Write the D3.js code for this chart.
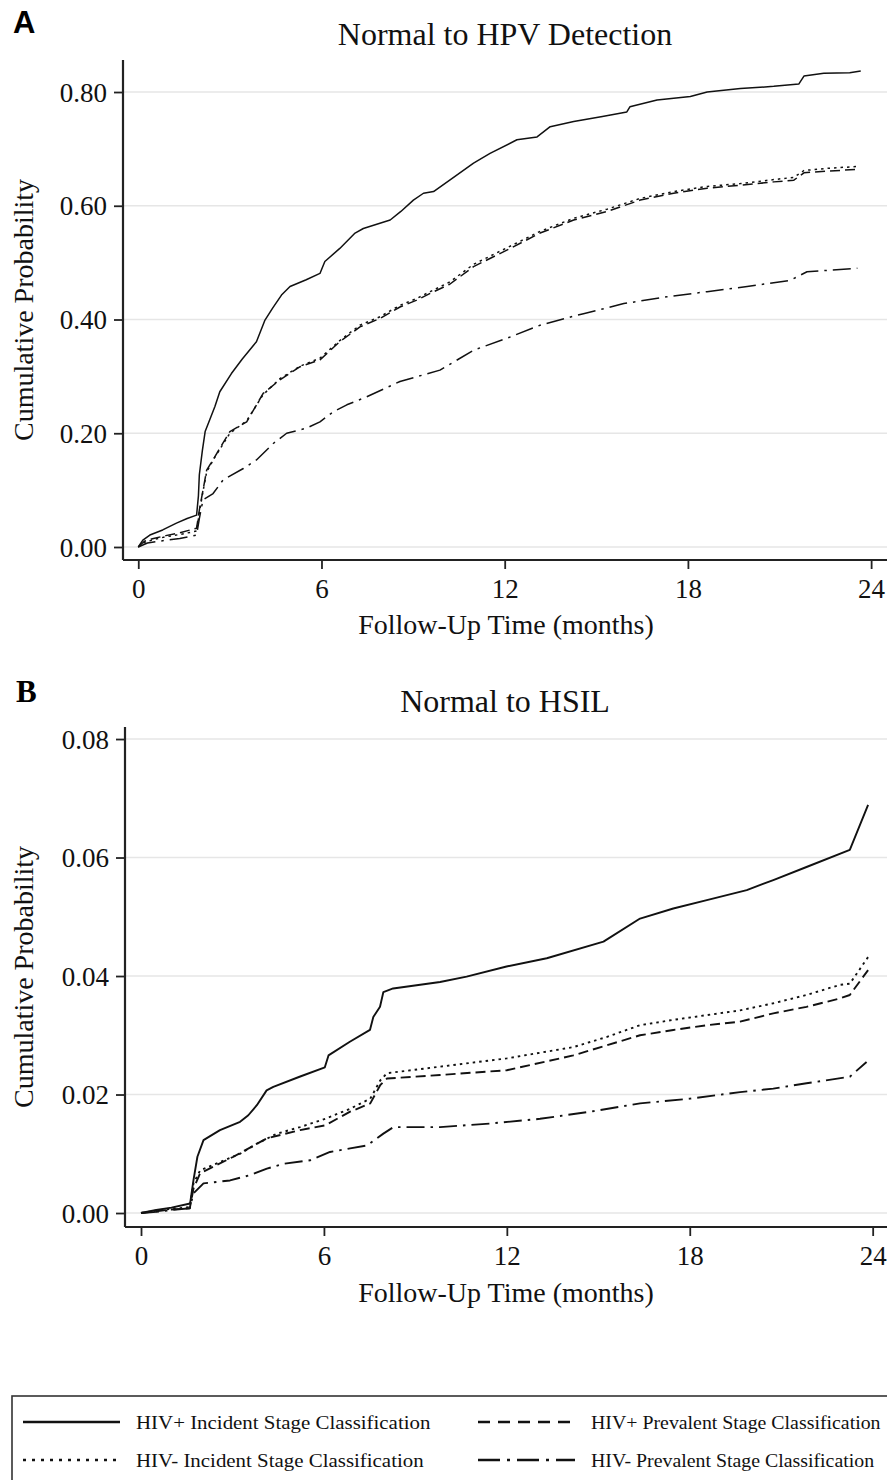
<!DOCTYPE html>
<html>
<head>
<meta charset="utf-8">
<script src="https://cdn.jsdelivr.net/npm/d3@7"></script>
<style>
  html, body { margin: 0; padding: 0; background: #fff; overflow: hidden; }
  svg { display: block; }
</style>
</head>
<body>
<svg id="chart" width="887" height="1480"></svg>
<script>
// ---- Data -------------------------------------------------------------
const monthTicks = [0, 6, 12, 18, 24];
const hpvTicks = [0, 0.2, 0.4, 0.6, 0.8];
const hsilTicks = [0, 0.02, 0.04, 0.06, 0.08];

const seriesNames = [
  "HIV+ Incident Stage Classification",
  "HIV+ Prevalent Stage Classification",
  "HIV- Incident Stage Classification",
  "HIV- Prevalent Stage Classification"
];

// Panel A: Normal to HPV Detection (months, cumulative probability)
const hpvPosIncT = [0, 0.15, 0.38, 0.8, 1.25, 1.6, 1.91, 1.97, 2.0, 2.1, 2.19, 2.35, 2.51, 2.67, 3.05, 3.4, 3.87, 4.15, 4.4, 4.69, 4.97, 5.5, 5.95, 6.11, 6.6, 7.1, 7.37, 8.25, 8.6, 9.01, 9.34, 9.67, 10.2, 10.98, 11.52, 12.4, 13.06, 13.49, 14.26, 15.2, 16.0, 16.1, 16.99, 18.08, 18.63, 19.72, 20.81, 21.63, 21.8, 22.45, 23.3, 23.66];
const hpvPosIncV = [0, 0.012, 0.021, 0.03, 0.042, 0.05, 0.056, 0.09, 0.127, 0.17, 0.203, 0.225, 0.247, 0.273, 0.305, 0.33, 0.361, 0.399, 0.42, 0.443, 0.458, 0.47, 0.481, 0.502, 0.525, 0.552, 0.56, 0.575, 0.59, 0.61, 0.622, 0.625, 0.645, 0.675, 0.692, 0.716, 0.721, 0.739, 0.748, 0.757, 0.765, 0.774, 0.786, 0.792, 0.8, 0.806, 0.81, 0.814, 0.828, 0.833, 0.834, 0.837];

const hpvPosPrevT = [0, 0.2, 0.5, 0.9, 1.36, 1.91, 2.0, 2.12, 2.24, 2.51, 3.0, 3.55, 4.09, 4.64, 5.3, 5.95, 6.6, 7.26, 7.92, 8.57, 9.12, 9.56, 10.2, 10.98, 12.07, 13.16, 14.26, 15.35, 16.44, 17.53, 18.63, 19.72, 20.81, 21.47, 21.8, 22.6, 23.55];
const hpvPosPrevV = [0, 0.01, 0.015, 0.02, 0.025, 0.033, 0.065, 0.1, 0.135, 0.159, 0.203, 0.22, 0.27, 0.294, 0.317, 0.329, 0.361, 0.387, 0.402, 0.422, 0.434, 0.446, 0.462, 0.493, 0.522, 0.552, 0.575, 0.59, 0.61, 0.622, 0.631, 0.636, 0.642, 0.645, 0.658, 0.661, 0.664];

const hpvNegIncT = [0, 0.2, 0.5, 0.9, 1.36, 1.91, 2.0, 2.12, 2.24, 2.51, 3.0, 3.55, 4.09, 4.64, 5.3, 5.95, 6.6, 7.26, 7.92, 8.57, 9.12, 9.56, 10.2, 10.98, 12.07, 13.16, 14.26, 15.35, 16.44, 17.53, 18.63, 19.72, 20.81, 21.47, 21.8, 22.6, 23.55];
const hpvNegIncV = [0, 0.008, 0.013, 0.018, 0.022, 0.028, 0.06, 0.098, 0.132, 0.158, 0.2, 0.222, 0.268, 0.296, 0.318, 0.332, 0.363, 0.39, 0.405, 0.425, 0.437, 0.449, 0.466, 0.497, 0.526, 0.555, 0.578, 0.594, 0.613, 0.625, 0.634, 0.639, 0.646, 0.65, 0.662, 0.666, 0.669];

const hpvNegPrevT = [0, 0.3, 0.8, 1.36, 1.91, 2.0, 2.12, 2.45, 2.78, 3.44, 3.87, 4.42, 4.86, 5.51, 5.95, 6.39, 6.83, 7.48, 8.57, 9.88, 10.98, 12.07, 13.16, 14.26, 14.58, 15.9, 17.32, 18.63, 19.94, 21.36, 21.9, 23.55];
const hpvNegPrevV = [0, 0.007, 0.011, 0.015, 0.021, 0.05, 0.083, 0.094, 0.118, 0.138, 0.153, 0.182, 0.2, 0.209, 0.22, 0.238, 0.25, 0.264, 0.291, 0.311, 0.346, 0.367, 0.39, 0.406, 0.41, 0.428, 0.44, 0.449, 0.458, 0.469, 0.484, 0.49];

// Panel B: Normal to HSIL
const hsilPosIncT = [0, 0.5, 1.0, 1.61, 1.72, 1.85, 2.05, 2.59, 3.25, 3.52, 3.8, 4.12, 4.34, 5.2, 6.03, 6.15, 6.85, 7.51, 7.62, 7.84, 7.95, 8.27, 9.81, 10.68, 11.99, 13.31, 15.17, 16.37, 17.46, 18.56, 19.87, 20.74, 21.83, 23.25, 23.85];
const hsilPosIncV = [0, 0.0005, 0.0009, 0.0016, 0.0055, 0.0095, 0.0123, 0.014, 0.0154, 0.0165, 0.0182, 0.0207, 0.0213, 0.023, 0.0246, 0.0266, 0.0289, 0.0309, 0.0331, 0.0348, 0.0373, 0.0379, 0.039, 0.0399, 0.0416, 0.043, 0.0458, 0.0497, 0.0514, 0.0528, 0.0545, 0.0562, 0.0584, 0.0613, 0.0689];

const hsilPosPrevT = [0, 0.5, 1.0, 1.6, 1.72, 1.94, 3.03, 4.13, 5.22, 6.04, 6.86, 7.52, 7.85, 8.07, 9.81, 12.0, 14.18, 15.27, 16.37, 17.46, 18.56, 19.65, 20.74, 21.83, 22.92, 23.25, 23.85];
const hsilPosPrevV = [0, 0.0003, 0.0006, 0.0008, 0.0041, 0.0067, 0.0095, 0.0126, 0.014, 0.0148, 0.0171, 0.0185, 0.0216, 0.0227, 0.0233, 0.0241, 0.0266, 0.0283, 0.03, 0.0309, 0.0317, 0.0323, 0.0337, 0.0348, 0.0362, 0.0368, 0.041];

const hsilNegIncT = [0, 0.5, 1.0, 1.6, 1.72, 1.94, 2.59, 3.25, 3.8, 4.46, 5.22, 6.04, 6.86, 7.52, 7.85, 8.07, 9.81, 12.0, 14.18, 15.27, 16.37, 17.46, 18.56, 19.65, 20.74, 21.83, 22.92, 23.25, 23.85];
const hsilNegIncV = [0, 0.0004, 0.0007, 0.001, 0.005, 0.0072, 0.0086, 0.01, 0.0117, 0.0134, 0.0145, 0.0159, 0.0176, 0.0193, 0.0224, 0.0236, 0.0247, 0.0261, 0.028, 0.0297, 0.0317, 0.0326, 0.0334, 0.0342, 0.0354, 0.0368, 0.0385, 0.0387, 0.0432];

const hsilNegPrevT = [0, 0.5, 1.0, 1.6, 1.72, 2.05, 2.92, 3.58, 4.13, 4.67, 5.55, 6.2, 6.86, 7.41, 7.95, 8.28, 9.81, 11.45, 13.09, 14.73, 16.37, 18.01, 19.65, 20.74, 21.83, 23.25, 23.8];
const hsilNegPrevV = [0, 0.0002, 0.0005, 0.0008, 0.0033, 0.005, 0.0055, 0.0064, 0.0075, 0.0083, 0.0089, 0.0103, 0.0109, 0.0114, 0.0134, 0.0145, 0.0145, 0.0151, 0.0159, 0.0171, 0.0185, 0.0193, 0.0204, 0.021, 0.0219, 0.023, 0.0255];

// ---- Styles -----------------------------------------------------------
const serif = "'Liberation Serif', 'Times New Roman', serif";
const inkColor = "#111";
const plotDash = ["none", "10,5", "2.5,4", "18,6,2.5,6"];
const legendDash = ["none", "12,8", "3,6", "22,7,3,7"];

const zipSeries = (ts, vs) => ts.map((t, i) => ({ t: t, v: vs[i] }));

const svg = d3.select("#chart");

function drawPanel(cfg) {
  const g = svg.append("g");
  const x = d3.scaleLinear().domain(cfg.xDomain).range([cfg.left, cfg.right]);
  const y = d3.scaleLinear().domain(cfg.yDomain).range([cfg.bottom, cfg.top]);

  // gridlines
  g.append("g").selectAll("line").data(cfg.yTicks).join("line")
    .attr("x1", cfg.left).attr("x2", cfg.right)
    .attr("y1", d => y(d)).attr("y2", d => y(d))
    .attr("stroke", "#e6e6e6").attr("stroke-width", 1.6);

  // curves
  const line = d3.line().x(d => x(d.t)).y(d => y(d.v));
  cfg.series.forEach((s, i) => {
    g.append("path")
      .datum(s)
      .attr("d", line)
      .attr("fill", "none")
      .attr("stroke", "#111")
      .attr("stroke-width", cfg.lineWidth)
      .attr("stroke-dasharray", plotDash[i])
      .attr("stroke-linejoin", "round");
  });

  // y axis
  const yAxis = d3.axisLeft(y).tickValues(cfg.yTicks).tickFormat(d3.format(".2f"))
    .tickSize(9).tickPadding(7);
  const ya = g.append("g").attr("transform", `translate(${cfg.left},0)`).call(yAxis);
  ya.select(".domain").remove();
  ya.append("line").attr("x1", 0).attr("x2", 0).attr("y1", cfg.top).attr("y2", cfg.bottom)
    .attr("stroke", "#222").attr("stroke-width", 2.2);
  ya.selectAll(".tick line").attr("stroke", "#222").attr("stroke-width", 1.8);
  ya.selectAll(".tick text").attr("font-family", serif).attr("font-size", 27)
    .attr("fill", inkColor).attr("dy", "0.34em");

  // x axis
  const xAxis = d3.axisBottom(x).tickValues(monthTicks).tickFormat(d3.format("d"))
    .tickSize(9).tickPadding(10);
  const xa = g.append("g").attr("transform", `translate(0,${cfg.bottom})`).call(xAxis);
  xa.select(".domain").remove();
  xa.append("line").attr("x1", cfg.left).attr("x2", cfg.right).attr("y1", 0).attr("y2", 0)
    .attr("stroke", "#222").attr("stroke-width", 2.2);
  xa.selectAll(".tick line").attr("stroke", "#222").attr("stroke-width", 1.8);
  xa.selectAll(".tick text").attr("font-family", serif).attr("font-size", 27)
    .attr("fill", inkColor);

  // titles
  g.append("text").attr("x", 505).attr("y", cfg.titleY)
    .attr("text-anchor", "middle").attr("font-family", serif).attr("font-size", 32)
    .attr("fill", inkColor).text(cfg.title);
  g.append("text").attr("x", 506).attr("y", cfg.xTitleY)
    .attr("text-anchor", "middle").attr("font-family", serif).attr("font-size", 28)
    .attr("fill", inkColor).text("Follow-Up Time (months)");
  g.append("text")
    .attr("transform", `translate(33,${(cfg.top + cfg.bottom) / 2}) rotate(-90)`)
    .attr("text-anchor", "middle").attr("font-family", serif).attr("font-size", 28)
    .attr("fill", inkColor).text("Cumulative Probability");

  // panel letter
  g.append("text").attr("x", cfg.letterX).attr("y", cfg.letterY)
    .attr("font-family", cfg.letterFont).attr("font-weight", "bold")
    .attr("font-size", 31).attr("fill", "#000").text(cfg.letter);
}

drawPanel({
  letter: "A", letterX: 13, letterY: 33, letterFont: "'Liberation Sans', Arial, sans-serif",
  title: "Normal to HPV Detection", titleY: 45, xTitleY: 634,
  left: 123, right: 887, top: 60, bottom: 560,
  xDomain: [-0.5, 24.52], yDomain: [-0.02286, 0.8563],
  yTicks: hpvTicks, lineWidth: 1.5,
  series: [
    zipSeries(hpvPosIncT, hpvPosIncV),
    zipSeries(hpvPosPrevT, hpvPosPrevV),
    zipSeries(hpvNegIncT, hpvNegIncV),
    zipSeries(hpvNegPrevT, hpvNegPrevV)
  ]
});

drawPanel({
  letter: "B", letterX: 16, letterY: 702, letterFont: serif,
  title: "Normal to HSIL", titleY: 712, xTitleY: 1302,
  left: 125, right: 887, top: 727, bottom: 1227,
  xDomain: [-0.525, 24.47], yDomain: [-0.00236, 0.08203],
  yTicks: hsilTicks, lineWidth: 1.9,
  series: [
    zipSeries(hsilPosIncT, hsilPosIncV),
    zipSeries(hsilPosPrevT, hsilPosPrevV),
    zipSeries(hsilNegIncT, hsilNegIncV),
    zipSeries(hsilNegPrevT, hsilNegPrevV)
  ]
});

// ---- Legend -----------------------------------------------------------
const legend = svg.append("g");
legend.append("rect").attr("x", 12).attr("y", 1396).attr("width", 900).attr("height", 120)
  .attr("fill", "none").attr("stroke", "#333").attr("stroke-width", 1.6);

const legendSlots = [
  { col: 0, row: 0 }, { col: 1, row: 0 }, { col: 0, row: 1 }, { col: 1, row: 1 }
];
const colX = [23, 478];
const colStretch = [1.1, 1.045];
const rowY = [1422, 1460];

seriesNames.forEach((name, i) => {
  const slot = legendSlots[i];
  const lx = colX[slot.col], ly = rowY[slot.row];
  legend.append("line").attr("x1", lx).attr("x2", lx + 97).attr("y1", ly).attr("y2", ly)
    .attr("stroke", "#111").attr("stroke-width", 2.6)
    .attr("stroke-dasharray", legendDash[i]);
  legend.append("text")
    .attr("transform", `translate(${lx + 113},${ly + 7}) scale(${colStretch[slot.col]},1)`)
    .attr("font-family", serif).attr("font-size", 19).attr("fill", inkColor)
    .text(name);
});
</script>
</body>
</html>
